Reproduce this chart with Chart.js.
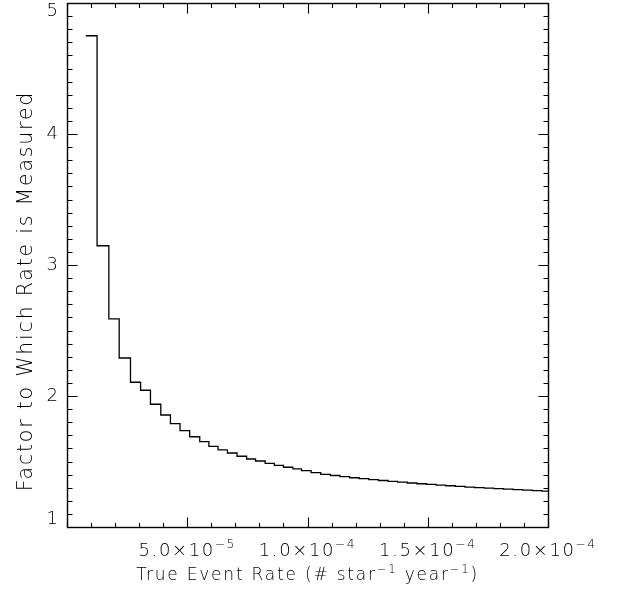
<!DOCTYPE html>
<html><head><meta charset="utf-8">
<script src="https://cdn.jsdelivr.net/npm/chart.js@4"></script>
<style>html,body{margin:0;padding:0;background:#fff}#wrap{width:618px;height:590px}</style>
</head><body><div id="wrap"><canvas id="c" width="618" height="590"></canvas></div>
<script>
// Step start positions (true event rate, # star^-1 year^-1)
const stepX = [7.8e-6, 12.5e-6, 17.4e-6, 21.7e-6, 26.4e-6, 30.6e-6, 34.7e-6, 39.0e-6, 43.0e-6, 47.0e-6,
  51.0e-6, 55.2e-6, 59.0e-6, 62.8e-6, 66.7e-6, 70.7e-6, 74.7e-6, 78.4e-6, 82.4e-6, 86.2e-6,
  90.0e-6, 93.9e-6, 97.5e-6, 101.5e-6, 105.5e-6, 109.5e-6, 113.5e-6, 117.5e-6, 121.5e-6, 125.5e-6,
  129.5e-6, 133.5e-6, 137.5e-6, 141.5e-6, 145.5e-6, 149.5e-6, 153.5e-6, 157.5e-6, 161.5e-6, 165.5e-6,
  169.5e-6, 173.5e-6, 177.5e-6, 181.5e-6, 185.5e-6, 189.5e-6, 193.5e-6, 197.5e-6];
// Factor to which rate is measured, per step
const stepY = [4.75, 3.147, 2.588, 2.29, 2.105, 2.044, 1.937, 1.855, 1.789, 1.735,
  1.689, 1.651, 1.616, 1.588, 1.565, 1.540, 1.519, 1.504, 1.486, 1.471,
  1.456, 1.443, 1.430, 1.415, 1.402, 1.393, 1.384, 1.376, 1.369, 1.361,
  1.355, 1.348, 1.342, 1.336, 1.330, 1.325, 1.320, 1.315, 1.310, 1.305,
  1.301, 1.297, 1.293, 1.289, 1.285, 1.281, 1.278, 1.274];
const xEnd = 2.0e-4;
const xMajorTicks = [0, 5e-5, 1e-4, 1.5e-4, 2e-4];
const xTickLabels = ['', '5.0×10', '1.0×10', '1.5×10', '2.0×10'];
const xTickExps = ['', '−5', '−4', '−4', '−4'];
const xMinorStep = 1e-5;
const yMajorTicks = [1, 2, 3, 4, 5];
const yTickLabels = ['1', '2', '3', '4', '5'];
const yMinorStep = 0.1;

const points = stepX.map((x, i) => ({x: x, y: stepY[i]}));
points.push({x: xEnd, y: stepY[stepY.length - 1]});

const FONT = '"DejaVu Sans", sans-serif';
const TXT = '#000';

function drawSupText(ctx, parts, x, y, align, size, spacing) {
  ctx.save();
  ctx.letterSpacing = spacing + 'px';
  let total = 0;
  const widths = parts.map(p => {
    ctx.font = '200 ' + (p.sup ? size * 0.68 : size) + 'px ' + FONT;
    const w = ctx.measureText(p.t).width;
    total += w;
    return w;
  });
  let cx = align === 'center' ? x - total / 2 : x;
  ctx.fillStyle = TXT;
  ctx.textBaseline = 'alphabetic';
  ctx.textAlign = 'left';
  parts.forEach((p, i) => {
    ctx.font = '200 ' + (p.sup ? size * 0.68 : size) + 'px ' + FONT;
    ctx.fillText(p.t, cx, p.sup ? y - size * 0.42 : y);
    cx += widths[i];
  });
  ctx.restore();
}

const framePlugin = {
  id: 'frame',
  afterDraw(chart) {
    const ctx = chart.ctx;
    const xs = chart.scales.x, ys = chart.scales.y;
    const a = chart.chartArea;
    const L = Math.round(a.left) + 0.5, R = Math.round(a.right) + 0.5;
    const T = Math.round(a.top) + 0.5, B = Math.round(a.bottom) + 0.5;
    ctx.save();
    ctx.strokeStyle = '#000';
    ctx.lineWidth = 1.4;
    ctx.strokeRect(L, T, R - L, B - T);
    ctx.lineWidth = 1.1;
    ctx.beginPath();
    for (let v = 0; v <= xs.max + 1e-12; v += xMinorStep) {
      const px = Math.round(xs.getPixelForValue(v)) + 0.5;
      const major = xMajorTicks.some(m => Math.abs(m - v) < 1e-9);
      const len = major ? 10 : 4.5;
      ctx.moveTo(px, B); ctx.lineTo(px, B - len);
      ctx.moveTo(px, T); ctx.lineTo(px, T + len);
    }
    for (let k = 0; k <= 40; k++) {
      const v = ys.min + k * yMinorStep;
      const py = Math.round(ys.getPixelForValue(v)) + 0.5;
      const major = k % 10 === 0;
      const len = major ? 10 : 5;
      ctx.moveTo(L, py); ctx.lineTo(L + len, py);
      ctx.moveTo(R, py); ctx.lineTo(R - len, py);
    }
    ctx.stroke();
    ctx.restore();

    ctx.save();
    ctx.fillStyle = TXT;
    ctx.font = '200 18px ' + FONT;
    ctx.textAlign = 'right';
    ctx.textBaseline = 'middle';
    yMajorTicks.forEach((v, i) => {
      let py = ys.getPixelForValue(v);
      if (i === 0) py -= 8;
      if (i === yMajorTicks.length - 1) py += 8;
      ctx.fillText(yTickLabels[i], a.left - 9, py);
    });
    ctx.restore();

    xMajorTicks.forEach((v, i) => {
      if (!xTickLabels[i]) return;
      const px = xs.getPixelForValue(v);
      drawSupText(ctx, [{t: xTickLabels[i]}, {t: xTickExps[i], sup: true}], px, a.bottom + 29, 'center', 18, 1.6);
    });

    drawSupText(ctx, [{t: 'True Event Rate (# star'}, {t: '−1', sup: true}, {t: ' year'}, {t: '−1', sup: true}, {t: ')'}],
      (a.left + a.right) / 2, a.bottom + 53, 'center', 17, 1.8);

    ctx.save();
    ctx.translate(32, 291);
    ctx.rotate(-Math.PI / 2);
    drawSupText(ctx, [{t: 'Factor to Which Rate is Measured'}], 0, 0, 'center', 20.5, 1.8);
    ctx.restore();
  }
};

new Chart(document.getElementById('c'), {
  type: 'line',
  data: {
    datasets: [{
      data: points,
      stepped: true,
      borderColor: '#000',
      borderWidth: 1.3,
      pointRadius: 0,
      fill: false,
      tension: 0
    }]
  },
  options: {
    responsive: false,
    animation: false,
    devicePixelRatio: 1,
    layout: {padding: {left: 67, right: 70, top: 3, bottom: 63}},
    plugins: {legend: {display: false}, tooltip: {enabled: false}},
    scales: {
      x: {type: 'linear', min: 0, max: 2e-4, display: false},
      y: {type: 'linear', min: 1, max: 5, display: false}
    }
  },
  plugins: [framePlugin]
});
</script>
</body></html>
